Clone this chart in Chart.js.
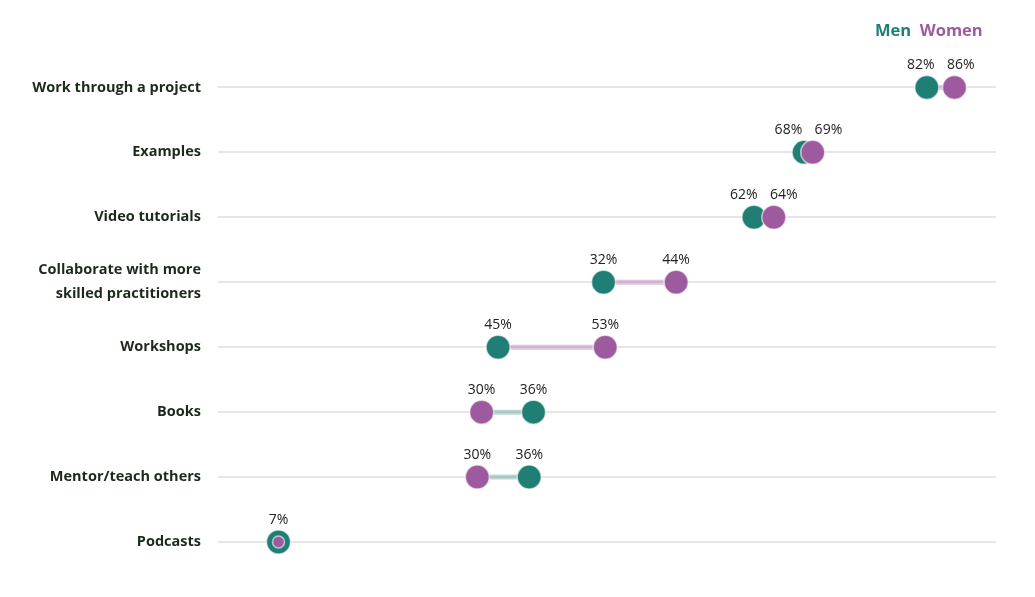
<!DOCTYPE html>
<html><head><meta charset="utf-8">
<script src="https://cdn.jsdelivr.net/npm/chart.js@4"></script>
<style>
html,body{margin:0;padding:0;background:#fff;}
#wrap{position:relative;width:1035px;height:597px;}
#legend{position:absolute;top:18px;left:875px;font:bold 16.5px "Open Sans",sans-serif;}
</style></head><body>
<div id="wrap"><canvas id="c" width="1035" height="597"></canvas>
<div id="legend"><span style="color:#1f7f74">Men</span>&nbsp;&nbsp;<span style="color:#9e5a9e">Women</span></div></div>
<script>
const categories = ["Work through a project","Examples","Video tutorials",["Collaborate with more","skilled practitioners"],"Workshops","Books","Mentor/teach others","Podcasts"];
const menValues = [82, 67.8, 62, 44.6, 32.4, 36.5, 36, 7];
const womenValues = [85.2, 68.8, 64.3, 53, 44.8, 30.5, 30, 7];
const menLabels = ["82%","68%","62%","32%","45%","36%","36%","7%"];
const womenLabels = ["86%","69%","64%","44%","53%","30%","30%",null];
const TEAL="#1f7f74", PURPLE="#9e5a9e";

const overlay = {
  id:'overlay',
  beforeDatasetsDraw(chart){
    const {ctx, scales:{x,y}} = chart;
    ctx.save(); ctx.lineWidth=5; ctx.lineCap='butt';
    categories.forEach((c,i)=>{
      const m=menValues[i], w=womenValues[i];
      ctx.strokeStyle = w>m ? 'rgba(158,90,158,0.35)' : 'rgba(31,127,116,0.3)';
      ctx.beginPath(); ctx.moveTo(x.getPixelForValue(m), y.getPixelForValue(i));
      ctx.lineTo(x.getPixelForValue(w), y.getPixelForValue(i)); ctx.stroke();
    });
    ctx.restore();
  },
  afterDatasetsDraw(chart){
    const {ctx, scales:{x,y}} = chart;
    ctx.save(); ctx.font='14px "Open Sans", sans-serif'; ctx.fillStyle='#222'; ctx.textAlign='center'; ctx.textBaseline='alphabetic';
    categories.forEach((c,i)=>{
      const py=y.getPixelForValue(i)-18;
      let mx=x.getPixelForValue(menValues[i]), wx=x.getPixelForValue(womenValues[i]);
      if(womenLabels[i]){
        if(Math.abs(mx-wx)<40){ const mid=(mx+wx)/2; if(mx<wx){mx=mid-20;wx=mid+20;}else{mx=mid+20;wx=mid-20;} }
        ctx.fillText(womenLabels[i], wx, py);
      }
      ctx.fillText(menLabels[i], mx, py);
    });
    ctx.restore();
  }
};

new Chart(document.getElementById('c'),{
  type:'scatter',
  data:{datasets:[
    {label:'Men',data:menValues.map((v,i)=>({x:v,y:i})),backgroundColor:TEAL,borderColor:'rgba(255,255,255,0.6)',borderWidth:1.5,pointRadius:12,pointHoverRadius:12,order:2},
    {label:'Women',data:womenValues.map((v,i)=>({x:v,y:i})),backgroundColor:PURPLE,borderColor:'rgba(255,255,255,0.6)',borderWidth:1.5,pointRadius:womenValues.map((v,i)=>i===7?6:12),pointHoverRadius:12,order:1}
  ]},
  options:{
    responsive:false,animation:false,
    layout:{padding:{top:22,bottom:12,right:39,left:0}},
    plugins:{legend:{display:false},tooltip:{enabled:false}},
    scales:{
      x:{type:'linear',min:0,max:90,display:false},
      y:{type:'linear',reverse:true,min:-0.9,max:7.4,
        afterBuildTicks(s){s.ticks=categories.map((c,i)=>({value:i}));},
        afterFit(s){s.width=218;},
        border:{display:false},
        grid:{color:'#e6e6e6',lineWidth:2,drawTicks:false,offset:false},
        ticks:{padding:17,color:'#1b2a1b',font:{family:'"Open Sans", sans-serif',size:14.5,weight:'bold',lineHeight:1.65},
          callback:(v)=>categories[v]}
      }
    }
  },
  plugins:[overlay]
});
</script></body></html>
